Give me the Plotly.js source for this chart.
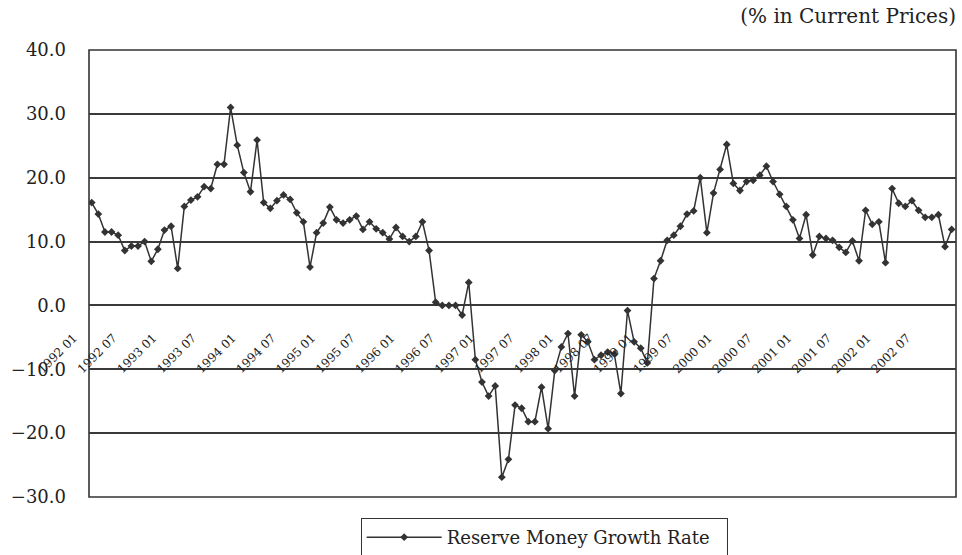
<!DOCTYPE html>
<html>
<head>
<meta charset="utf-8">
<script src="https://cdn.plot.ly/plotly-3.0.1.min.js"></script>
<style>
  html, body { margin: 0; padding: 0; background: #fff; }
  #chart { width: 962px; height: 555px; }
</style>
</head>
<body>
<div id="chart"></div>
<script>
// Monthly reserve money growth rate (%), starting 1992 01
const startYear = 1992;
const startMonth = 1;
const reserveMoneyGrowth = [
  16.1, 14.3, 11.5, 11.5, 11.0, 8.6, 9.3, 9.3, 10.0, 6.9, 8.8, 11.8,
  12.4, 5.8, 15.5, 16.5, 17.0, 18.6, 18.3, 22.1, 22.1, 31.0, 25.1, 20.8,
  17.8, 25.9, 16.1, 15.2, 16.4, 17.3, 16.6, 14.5, 13.1, 6.0, 11.4,
  12.9, 15.4, 13.4, 12.9, 13.4, 14.0, 11.9, 13.1, 12.0, 11.4, 10.4, 12.2,
  10.8, 10.0, 10.8, 13.1, 8.6, 0.5, 0.0, 0.0, 0.0, -1.5, 3.6,
  -8.5, -12.0, -14.2, -12.6, -26.9, -24.1, -15.6, -16.1, -18.2, -18.2, -12.8, -19.3,
  -10.2, -6.5, -4.4, -14.2, -4.6, -5.7, -8.5, -7.8, -7.3, -7.6, -13.8, -0.8,
  -5.7, -6.7, -9.0,
  4.2, 7.0, 10.2, 11.0, 12.4, 14.3, 14.8, 20.0, 11.4, 17.6, 21.3, 25.2, 19.1, 18.0,
  19.4, 19.6, 20.4, 21.8, 19.4, 17.4, 15.5, 13.4, 10.5, 14.2, 7.9, 10.8,
  10.5, 10.2, 9.1, 8.3, 10.1, 7.0, 14.9, 12.7, 13.1, 6.7, 18.3, 16.0,
  15.5, 16.4, 14.9, 13.8, 13.8, 14.2, 9.2, 11.9
];
const xTickLabels = [
  "1992 01", "1992 07", "1993 01", "1993 07", "1994 01", "1994 07",
  "1995 01", "1995 07", "1996 01", "1996 07", "1997 01", "1997 07",
  "1998 01", "1998 07", "1999 01", "1999 07", "2000 01", "2000 07",
  "2001 01", "2001 07", "2002 01", "2002 07"
];
const yTickVals = [-30, -20, -10, 0, 10, 20, 30, 40];
const seriesName = "Reserve Money Growth Rate";
const unitNote = "(% in Current Prices)";

// month categories for the x axis
const months = reserveMoneyGrowth.map((_, i) => {
  const m = startMonth - 1 + i;
  const y = startYear + Math.floor(m / 12);
  const mm = (m % 12) + 1;
  return y + " " + (mm < 10 ? "0" + mm : "" + mm);
});

const FONT = "DejaVu Serif, Liberation Serif, serif";
const INK = "#333";

const trace = {
  type: "scatter",
  mode: "lines+markers",
  x: months,
  y: reserveMoneyGrowth,
  name: seriesName,
  line: { color: INK, width: 1.5 },
  marker: { symbol: "diamond", size: 6, color: INK },
  showlegend: true
};

const layout = {
  width: 962, height: 555,
  margin: { l: 89, r: 6, t: 50, b: 58, autoexpand: false },
  paper_bgcolor: "#fff", plot_bgcolor: "#fff",
  title: {
    text: unitNote, xref: "paper", x: 1, xanchor: "right",
    yref: "container", y: 0.972, yanchor: "middle",
    font: { family: FONT, size: 20, color: "#222" }
  },
  xaxis: {
    type: "category",
    categoryorder: "array", categoryarray: months,
    range: [-0.41, months.length - 1 + 0.66],
    tickmode: "array", tickvals: xTickLabels, ticktext: xTickLabels,
    tickangle: -45,
    tickfont: { family: FONT, size: 12, color: "#222" },
    anchor: "free", position: 0.379, side: "bottom",
    ticks: "", ticklabelshift: -18, ticklabelstandoff: 0,
    showgrid: false, zeroline: false, showline: false
  },
  yaxis: {
    range: [-30, 40],
    tickvals: yTickVals,
    tickformat: ".1f",
    ticks: "", ticklabelstandoff: 22,
    tickfont: { family: FONT, size: 18, color: "#222" },
    showgrid: true, gridcolor: "#3a3a3a", gridwidth: 1.6,
    zeroline: false, showline: false
  },
  shapes: [
    { type: "line", xref: "paper", x0: 0, x1: 1, yref: "y", y0: 0, y1: 0,
      layer: "between", line: { color: "#fff", width: 3 } },
    { type: "line", xref: "paper", x0: 0, x1: 1, yref: "y", y0: 0, y1: 0,
      layer: "between", line: { color: "#aaa", width: 1.2, dash: "dot" } },
    { type: "rect", xref: "paper", yref: "paper", x0: 0, x1: 1, y0: 0, y1: 1,
      layer: "between", line: { color: INK, width: 1.6 } }
  ],
  showlegend: true,
  legend: {
    orientation: "h",
    x: 0.525, xanchor: "center",
    y: -0.047, yanchor: "top",
    bordercolor: INK, borderwidth: 1,
    bgcolor: "#fff",
    font: { family: FONT, size: 18, color: "#222" },
    itemwidth: 75,
    entrywidth: 275
  }
};

Plotly.newPlot("chart", [trace], layout, { displayModeBar: false });
</script>
</body>
</html>
